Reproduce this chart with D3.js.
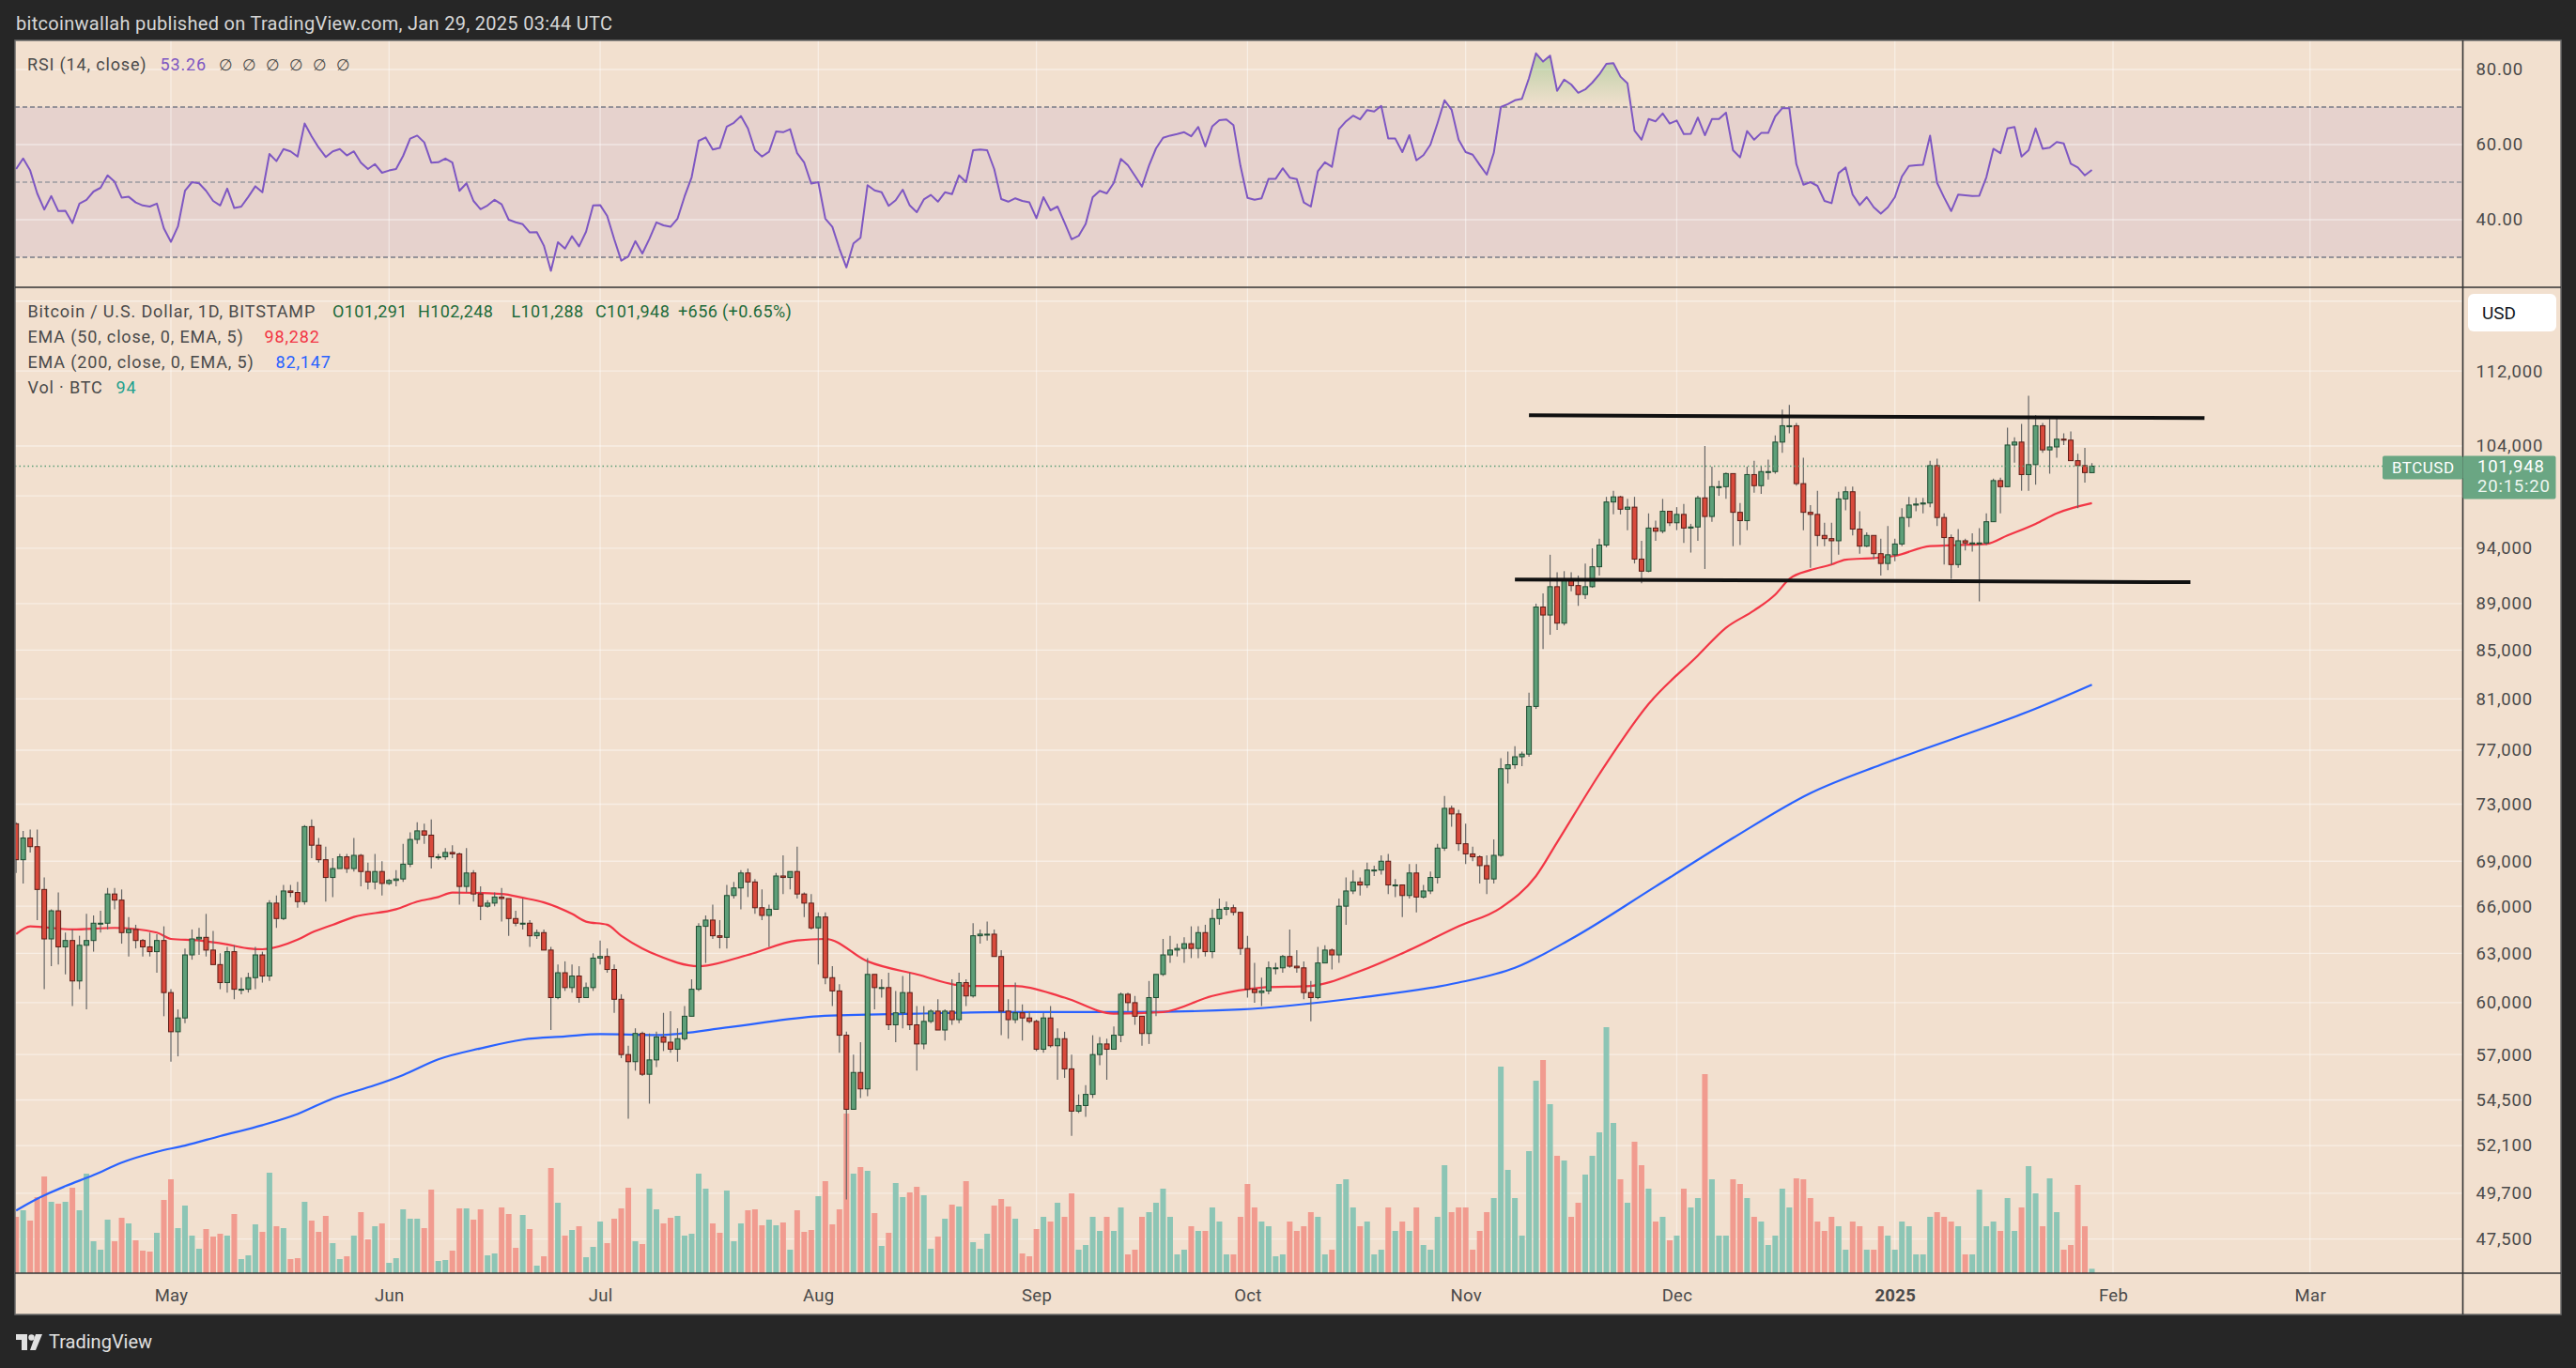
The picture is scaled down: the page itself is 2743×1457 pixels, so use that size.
<!DOCTYPE html>
<html>
<head>
<meta charset="utf-8">
<script src="https://cdn.jsdelivr.net/npm/d3@7"></script>
<style>
  html, body { margin: 0; background: #262626; }
  svg { display: block; }
</style>
</head>
<body>
<svg id="chart"></svg>
<script>
// daily candles from 2024-04-09 to 2025-01-29, prices in thousands of USD
const firstDay = "2024-04-09";

const opens = [
  71.6, 69.1, 70.6, 70.0, 67.1, 63.9, 65.7, 63.4, 63.8, 61.3, 63.5, 63.8, 64.9, 64.9, 66.8, 66.4, 64.3, 64.5, 63.8, 63.4, 63.1, 63.8,
  60.6, 58.3, 59.1, 62.9, 63.9, 64.0, 63.2, 62.3, 61.2, 63.1, 60.8, 60.8, 61.5, 62.9, 61.6, 66.2, 65.2, 67.0, 66.9, 66.3, 71.4, 70.1, 69.1, 67.9, 68.5, 69.3, 68.5, 69.4, 68.3, 67.6, 68.3,
  67.5, 67.7, 67.8, 68.8, 70.5, 71.1, 70.8, 69.3, 69.3, 69.6, 69.5, 67.3, 68.2, 66.8, 66.0, 66.2, 66.6, 66.5, 65.2, 64.9, 64.9, 64.1, 64.3, 63.2, 60.3, 61.8, 60.9, 61.6, 60.3, 60.9,
  62.7, 62.8, 62.0, 60.2, 57.0, 56.6, 58.2, 55.9, 56.7, 58.0, 57.7, 57.3, 57.9, 59.2, 60.8, 64.7, 65.1, 64.1, 64.0, 66.7, 67.2, 68.2, 67.6, 65.9, 65.4, 65.8, 68.0, 67.9, 68.3, 66.8, 66.2,
  64.6, 65.3, 61.5, 60.7, 58.1, 54.0, 56.0, 55.1, 61.7, 60.9, 60.9, 58.7, 59.4, 60.6, 58.7, 57.6, 58.9, 59.5, 58.4, 59.5, 59.0, 61.2, 60.4, 64.1, 64.2, 64.2, 62.8, 59.5, 59.0, 59.4, 59.1,
  58.9, 57.3, 59.1, 57.5, 57.9, 56.2, 53.9, 54.2, 54.8, 57.0, 57.6, 57.3, 58.1, 60.5, 60.0, 59.2, 58.2, 60.3, 61.7, 62.9, 63.2, 63.3, 63.6, 63.3, 64.3, 63.1, 65.2, 65.8, 65.9, 65.6,
  63.3, 60.8, 60.6, 60.7, 62.1, 62.1, 62.8, 62.2, 62.1, 60.6, 60.3, 62.4, 63.2, 62.9, 66.0, 67.0, 67.6, 67.4, 68.4, 68.4, 69.0, 67.4, 67.4, 66.7, 68.2, 66.6, 67.0, 67.9, 69.9, 72.7, 72.3,
  70.2, 69.5, 69.3, 68.7, 67.8, 69.4, 75.6, 75.9, 76.5, 76.7, 80.4, 88.7, 88.0, 90.5, 87.3, 91.1, 90.6, 89.8, 90.5, 92.3, 94.3, 98.4, 98.9, 97.7, 97.9, 93.0, 91.9, 95.9, 95.6, 97.5,
  96.4, 97.2, 95.9, 96.0, 98.8, 97.0, 99.9, 99.9, 101.2, 97.4, 96.6, 101.1, 100.0, 101.4, 101.4, 104.4, 106.1, 106.1, 100.2, 97.4, 97.2, 95.2, 94.9, 94.7, 98.7, 99.4, 95.8, 94.2, 95.2, 93.5, 92.6,
  93.4, 94.4, 96.9, 98.1, 98.2, 98.3, 102.0, 96.9, 95.0, 92.5, 94.7, 94.5, 94.5, 94.5, 96.5, 100.5, 99.9, 104.1, 104.4, 101.1, 102.1, 106.1, 103.6, 103.9, 104.7, 104.6, 102.5, 102.0, 101.291
];

const highs = [
  71.7, 71.1, 71.2, 71.2, 67.9, 65.8, 66.9, 64.3, 64.5, 64.1, 65.5, 65.4, 65.7, 67.2, 67.2, 67.1, 65.3, 64.8, 63.9, 64.3, 64.2, 64.7,
  60.8, 59.6, 63.3, 64.5, 64.6, 65.5, 64.4, 63.0, 63.4, 63.5, 61.5, 61.8, 63.4, 63.1, 66.4, 66.7, 67.4, 67.4, 67.6, 71.5, 71.9, 70.6, 70.0, 69.2, 69.5, 69.5, 70.6, 69.5, 68.9, 69.5, 69.0,
  67.8, 68.4, 70.2, 71.0, 71.7, 71.6, 71.9, 69.5, 69.9, 70.1, 69.6, 69.9, 68.4, 67.3, 66.4, 66.9, 67.2, 66.5, 65.7, 66.5, 65.1, 64.5, 64.5, 63.4, 62.3, 62.5, 62.3, 62.2, 61.2, 63.0,
  63.8, 63.3, 62.3, 60.5, 57.5, 58.5, 58.3, 58.2, 58.3, 59.4, 59.5, 58.5, 59.8, 61.4, 64.9, 65.4, 66.1, 65.1, 67.4, 67.6, 68.4, 68.5, 67.8, 67.1, 66.1, 68.2, 69.4, 68.3, 70.0, 66.9, 66.8,
  65.6, 65.6, 62.2, 61.1, 58.3, 57.0, 57.7, 62.7, 61.7, 61.4, 61.8, 60.7, 61.6, 61.8, 59.8, 59.8, 59.6, 60.2, 59.6, 61.4, 61.8, 61.4, 64.9, 64.5, 65.0, 64.5, 63.2, 60.2, 61.2, 59.9, 59.5,
  59.0, 59.4, 59.8, 58.5, 58.3, 57.0, 54.8, 55.3, 58.1, 58.0, 57.9, 58.6, 60.6, 60.6, 60.4, 59.2, 61.3, 61.7, 63.9, 64.1, 63.6, 64.0, 64.7, 64.7, 64.8, 65.8, 66.5, 66.3, 66.1, 65.6,
  64.1, 62.4, 61.5, 62.5, 62.4, 62.9, 64.5, 63.2, 62.5, 61.3, 63.4, 63.5, 63.3, 66.5, 67.9, 68.4, 67.9, 68.9, 68.7, 69.4, 69.5, 67.8, 67.4, 68.8, 68.8, 67.4, 68.3, 70.2, 73.6, 72.9, 72.6,
  71.6, 70.0, 69.4, 69.4, 70.5, 76.4, 76.9, 77.3, 76.9, 81.5, 89.0, 89.9, 93.4, 91.8, 91.9, 91.8, 91.5, 92.6, 94.0, 94.9, 98.9, 99.5, 99.0, 98.7, 98.9, 94.7, 97.3, 96.6, 98.7, 97.5,
  97.9, 98.2, 96.3, 99.0, 104.0, 101.9, 100.5, 101.3, 101.2, 98.3, 101.9, 102.5, 101.9, 102.6, 105.1, 107.8, 108.3, 106.4, 102.8, 98.1, 99.5, 96.4, 96.4, 99.4, 99.9, 99.9, 97.5, 95.5, 95.2, 94.9, 96.1,
  94.9, 97.8, 98.9, 98.8, 98.8, 102.5, 102.7, 97.3, 95.3, 95.8, 94.9, 95.4, 95.9, 97.3, 100.7, 100.8, 105.9, 104.9, 106.3, 109.3, 107.2, 106.4, 106.8, 107.1, 105.3, 105.5, 103.2, 103.8, 102.248
];

const lows = [
  68.2, 67.5, 69.6, 65.1, 60.8, 62.2, 62.3, 61.7, 59.8, 60.8, 59.6, 63.1, 64.3, 64.5, 65.8, 63.6, 62.8, 63.3, 62.8, 62.8, 61.8, 59.2,
  56.6, 56.9, 58.8, 62.6, 62.9, 62.8, 62.3, 60.8, 60.6, 60.2, 60.5, 60.6, 60.8, 61.2, 61.3, 64.6, 65.1, 66.6, 65.9, 66.1, 69.2, 68.9, 66.3, 66.6, 68.5, 68.2, 68.3, 67.3, 67.1, 67.1, 66.7,
  67.4, 67.3, 67.6, 68.6, 70.2, 70.2, 68.5, 69.1, 69.1, 69.2, 66.1, 66.9, 66.3, 65.1, 65.9, 66.0, 65.0, 64.1, 64.7, 64.5, 63.4, 63.9, 63.2, 58.4, 60.2, 60.7, 60.6, 60.0, 60.3, 60.7,
  62.3, 61.8, 59.4, 56.8, 53.5, 56.1, 55.8, 54.3, 56.3, 57.2, 57.1, 56.6, 57.8, 59.2, 60.7, 62.4, 63.9, 63.3, 63.3, 66.5, 65.8, 66.6, 65.5, 65.1, 63.4, 65.8, 66.8, 67.1, 66.5, 65.3, 64.5,
  62.3, 61.1, 59.8, 57.1, 49.4, 54.0, 54.6, 54.7, 59.6, 60.3, 58.4, 57.7, 58.5, 58.4, 56.1, 57.3, 58.8, 58.4, 57.8, 58.7, 58.8, 59.8, 60.3, 63.6, 63.8, 62.8, 58.1, 57.9, 58.8, 57.8, 58.8,
  57.2, 57.1, 57.4, 55.6, 55.7, 52.6, 53.8, 53.6, 54.6, 56.4, 55.6, 57.3, 57.7, 59.5, 58.7, 57.5, 57.6, 59.2, 61.6, 62.4, 62.8, 62.4, 62.7, 62.7, 62.8, 62.7, 64.8, 65.4, 65.4, 62.9,
  60.3, 60.0, 59.8, 60.5, 61.7, 61.8, 62.1, 61.8, 60.2, 58.9, 60.2, 62.4, 62.0, 62.4, 64.8, 66.8, 66.7, 67.2, 68.0, 68.1, 66.8, 66.6, 65.3, 66.5, 65.6, 66.5, 66.8, 67.5, 69.7, 71.4, 69.7,
  68.8, 69.0, 67.5, 66.8, 67.5, 69.3, 74.5, 75.6, 75.8, 76.5, 80.2, 85.1, 86.3, 86.7, 87.1, 90.1, 88.8, 89.4, 90.4, 91.5, 94.1, 97.2, 97.2, 95.7, 92.6, 90.8, 91.8, 94.7, 95.4, 96.1,
  95.7, 94.5, 93.6, 94.7, 92.1, 96.5, 99.0, 98.7, 94.2, 94.3, 95.7, 99.3, 99.2, 100.6, 101.2, 103.3, 105.3, 100.0, 95.7, 92.2, 94.2, 94.2, 92.5, 93.4, 97.6, 95.2, 93.5, 94.1, 93.0, 91.5, 92.0,
  92.8, 94.2, 96.0, 97.5, 97.3, 97.9, 96.1, 92.5, 91.2, 92.2, 93.8, 93.7, 89.2, 94.3, 96.5, 97.3, 99.9, 102.3, 99.5, 99.5, 100.1, 103.3, 101.2, 102.8, 104.1, 102.5, 97.8, 100.3, 101.288
];

const closes = [
  69.1, 70.6, 70.0, 67.1, 63.9, 65.7, 63.4, 63.8, 61.3, 63.5, 63.8, 64.9, 64.9, 66.8, 66.4, 64.3, 64.5, 63.8, 63.4, 63.1, 63.8, 60.6,
  58.3, 59.1, 62.9, 63.9, 64.0, 63.2, 62.3, 61.2, 63.1, 60.8, 60.8, 61.5, 62.9, 61.6, 66.2, 65.2, 67.0, 66.9, 66.3, 71.4, 70.1, 69.1, 67.9, 68.5, 69.3, 68.5, 69.4, 68.3, 67.6, 68.3, 67.5,
  67.7, 67.8, 68.8, 70.5, 71.1, 70.8, 69.3, 69.3, 69.6, 69.5, 67.3, 68.2, 66.8, 66.0, 66.2, 66.6, 66.5, 65.2, 64.9, 64.9, 64.1, 64.3, 63.2, 60.3, 61.8, 60.9, 61.6, 60.3, 60.9, 62.7,
  62.8, 62.0, 60.2, 57.0, 56.6, 58.2, 55.9, 56.7, 58.0, 57.7, 57.3, 57.9, 59.2, 60.8, 64.7, 65.1, 64.1, 64.0, 66.7, 67.2, 68.2, 67.6, 65.9, 65.4, 65.8, 68.0, 67.9, 68.3, 66.8, 66.2, 64.6,
  65.3, 61.5, 60.7, 58.1, 54.0, 56.0, 55.1, 61.7, 60.9, 60.9, 58.7, 59.4, 60.6, 58.7, 57.6, 58.9, 59.5, 58.4, 59.5, 59.0, 61.2, 60.4, 64.1, 64.2, 64.2, 62.8, 59.5, 59.0, 59.4, 59.1, 58.9,
  57.3, 59.1, 57.5, 57.9, 56.2, 53.9, 54.2, 54.8, 57.0, 57.6, 57.3, 58.1, 60.5, 60.0, 59.2, 58.2, 60.3, 61.7, 62.9, 63.2, 63.3, 63.6, 63.3, 64.3, 63.1, 65.2, 65.8, 65.9, 65.6, 63.3,
  60.8, 60.6, 60.7, 62.1, 62.1, 62.8, 62.2, 62.1, 60.6, 60.3, 62.4, 63.2, 62.9, 66.0, 67.0, 67.6, 67.4, 68.4, 68.4, 69.0, 67.4, 67.4, 66.7, 68.2, 66.6, 67.0, 67.9, 69.9, 72.7, 72.3, 70.2,
  69.5, 69.3, 68.7, 67.8, 69.4, 75.6, 75.9, 76.5, 76.7, 80.4, 88.7, 88.0, 90.5, 87.3, 91.1, 90.6, 89.8, 90.5, 92.3, 94.3, 98.4, 98.9, 97.7, 97.9, 93.0, 91.9, 95.9, 95.6, 97.5, 96.4,
  97.2, 95.9, 96.0, 98.8, 97.0, 99.9, 99.9, 101.2, 97.4, 96.6, 101.1, 100.0, 101.4, 101.4, 104.4, 106.1, 106.1, 100.2, 97.4, 97.2, 95.2, 94.9, 94.7, 98.7, 99.4, 95.8, 94.2, 95.2, 93.5, 92.6, 93.4,
  94.4, 96.9, 98.1, 98.2, 98.3, 102.0, 96.9, 95.0, 92.5, 94.7, 94.5, 94.5, 94.5, 96.5, 100.5, 99.9, 104.1, 104.4, 101.1, 102.1, 106.1, 103.6, 103.9, 104.7, 104.6, 102.5, 102.0, 101.3, 101.948
];

// volume in BTC
const volumes = [
  1200, 1340, 1120, 1620, 2060, 1520, 1480, 1520, 1820, 1340, 2120, 680, 500, 1140, 680, 1180, 1060, 700, 480, 460, 860,
  1560, 2000, 960, 1440, 800, 520, 940, 780, 840, 800, 1260, 300, 380, 1040, 880, 2140, 1000, 960, 300, 320, 1520, 1120, 880, 1220, 640, 300, 360, 800, 1300, 720, 1000,
  1060, 220, 320, 1360, 1160, 1160, 960, 1780, 260, 280, 480, 1380, 1380, 1140, 1360, 380, 420, 1400, 1260, 540, 1240, 940, 160, 360, 2240, 1500, 800, 920, 1000, 340, 560,
  1100, 640, 1160, 1380, 1820, 680, 620, 1800, 1360, 1060, 1180, 1220, 800, 840, 2120, 1800, 1060, 860, 1760, 680, 1060, 1340, 1360, 1020, 1140, 1020, 1080, 500, 1340, 880, 920,
  1640, 1960, 1040, 1360, 3400, 2120, 2260, 2180, 1280, 580, 860, 1920, 1620, 1720, 1840, 1660, 520, 780, 1160, 1460, 1420, 1960, 660, 520, 840, 1440, 1580, 1420, 1160, 420, 360,
  940, 1200, 1100, 1500, 1200, 1700, 500, 600, 1200, 900, 1200, 900, 1400, 400, 500, 1200, 1300, 1500, 1800, 1200, 400, 500, 1000, 900, 900, 1400, 1100, 400, 400, 1200,
  1900, 1400, 1100, 1000, 360, 400, 1100, 900, 1000, 1300, 1200, 400, 500, 1900, 2000, 1400, 1000, 1100, 400, 500, 1400, 900, 1100, 900, 1400, 600, 500, 1200, 2300, 1300, 1400,
  1400, 500, 900, 1300, 1600, 4400, 2200, 1600, 800, 2600, 4100, 4540, 3600, 2500, 2400, 1200, 1500, 2100, 2500, 3000, 5240, 3200, 2000, 1500, 2800, 2300, 1800, 1100, 1200, 700,
  800, 1800, 1400, 1600, 4240, 2000, 800, 800, 2000, 1900, 1600, 1200, 1100, 600, 800, 1800, 1400, 2020, 2000, 1600, 1100, 900, 1200, 1000, 500, 1100, 1000, 500, 500, 1000, 800,
  500, 1100, 1000, 400, 400, 1200, 1300, 1200, 1100, 1000, 400, 400, 1780, 1000, 1100, 900, 1600, 900, 1400, 2280, 1700, 1000, 2020, 1300, 500, 600, 1880, 1000, 94
];

const rsiValues = [
  53.5, 56.3, 53.1, 47.0, 42.7, 46.3, 42.3, 42.4, 39.1, 44.3, 45.3, 47.5, 48.5, 51.8, 50.1, 45.9, 46.1, 44.6, 43.8, 43.5,
  44.3, 37.7, 34.1, 38.2, 47.7, 50.0, 49.7, 47.7, 45.0, 43.8, 48.3, 43.1, 43.5, 46.1, 48.9, 47.3, 57.5, 55.6, 58.8, 58.2,
  56.8, 65.6, 62.2, 59.2, 56.7, 58.2, 58.8, 57.1, 58.2, 55.2, 53.5, 54.8, 52.5, 53.1, 53.5, 57.0, 61.6, 62.4, 60.6, 55.2,
  55.3, 56.3, 55.2, 47.7, 49.7, 45.0, 42.8, 43.8, 45.3, 44.1, 40.0, 39.3, 38.8, 36.6, 36.7, 33.1, 26.4, 34.0, 32.3, 35.6,
  32.9, 36.8, 43.8, 43.9, 41.0, 34.8, 29.1, 30.2, 34.3, 31.0, 34.9, 39.3, 38.5, 38.1, 40.3, 46.2, 51.3, 61.0, 61.9, 58.7,
  59.1, 64.8, 65.8, 67.6, 64.3, 58.5, 56.8, 58.1, 63.5, 63.3, 64.1, 57.7, 55.2, 49.6, 50.0, 40.3, 38.1, 32.3, 27.3, 33.7,
  35.2, 49.2, 47.8, 47.3, 43.7, 45.2, 48.0, 43.8, 42.0, 45.4, 46.6, 44.8, 47.3, 46.8, 51.8, 50.0, 58.5, 58.7, 58.5, 53.5,
  45.5, 44.8, 45.7, 45.0, 44.6, 40.4, 46.0, 42.5, 43.5, 39.2, 34.8, 35.7, 38.9, 46.0, 47.7, 47.0, 49.8, 56.2, 54.5, 51.7,
  48.8, 54.4, 59.0, 61.8, 62.4, 62.8, 63.3, 62.2, 64.7, 59.5, 64.9, 66.5, 66.7, 65.2, 54.3, 45.8, 45.3, 45.7, 50.9, 50.9,
  53.7, 51.2, 50.8, 44.6, 43.5, 52.9, 55.3, 54.1, 64.1, 66.2, 67.7, 66.7, 69.2, 68.8, 70.3, 61.6, 61.6, 58.0, 62.5, 55.8,
  57.2, 60.0, 65.7, 71.8, 69.3, 61.3, 58.0, 57.3, 54.6, 52.0, 57.8, 70.0, 70.8, 71.8, 72.2, 77.7, 84.3, 82.1, 83.7, 74.3,
  77.3, 76.0, 73.8, 74.7, 76.5, 78.7, 81.5, 81.7, 78.1, 76.3, 63.7, 61.3, 66.8, 66.2, 68.3, 65.6, 66.4, 62.8, 62.9, 67.2,
  62.5, 66.8, 66.8, 68.5, 58.5, 56.6, 63.6, 61.3, 63.1, 63.1, 67.5, 69.7, 69.7, 54.8, 49.3, 50.0, 49.0, 45.0, 44.4, 52.4,
  53.9, 46.7, 43.9, 46.0, 43.3, 41.6, 43.3, 46.0, 51.5, 54.3, 54.5, 54.6, 62.4, 49.8, 45.9, 42.3, 46.7, 46.5, 46.3, 46.4,
  51.3, 58.9, 57.7, 64.3, 64.7, 56.8, 58.5, 64.3, 58.9, 59.2, 60.7, 60.3, 54.9, 53.9, 51.8, 53.26
];

// EMA lines, [day, thousands USD]
const ema50Points = [
  ["2024-04-09", 64.2], ["2024-04-11", 64.7], ["2024-04-17", 64.5], ["2024-04-23", 64.6], ["2024-04-29", 64.3],
  ["2024-05-01", 63.9], ["2024-05-05", 63.8], ["2024-05-09", 63.55], ["2024-05-12", 63.3], ["2024-05-14", 63.25],
  ["2024-05-19", 63.85], ["2024-05-21", 64.3], ["2024-05-24", 64.8], ["2024-05-27", 65.3], ["2024-06-02", 65.8],
  ["2024-06-05", 66.3], ["2024-06-08", 66.6], ["2024-06-10", 66.9], ["2024-06-17", 66.8], ["2024-06-20", 66.55],
  ["2024-06-23", 66.25], ["2024-06-27", 65.5], ["2024-06-29", 65.0], ["2024-07-02", 64.8], ["2024-07-04", 64.1],
  ["2024-07-07", 63.3], ["2024-07-09", 62.9], ["2024-07-15", 62.2], ["2024-07-22", 62.9], ["2024-07-29", 63.8],
  ["2024-08-02", 63.9], ["2024-08-08", 62.5], ["2024-08-15", 61.7], ["2024-08-22", 61.0], ["2024-08-29", 61.0],
  ["2024-09-05", 60.3], ["2024-09-12", 59.35], ["2024-09-19", 59.45], ["2024-09-26", 60.4], ["2024-10-03", 60.9],
  ["2024-10-10", 61.0], ["2024-10-17", 61.9], ["2024-10-24", 63.2], ["2024-10-31", 64.7], ["2024-11-06", 65.9],
  ["2024-11-11", 68.0], ["2024-11-14", 70.3], ["2024-11-20", 75.2], ["2024-11-27", 80.6], ["2024-12-04", 84.55],
  ["2024-12-08", 86.9], ["2024-12-12", 88.4], ["2024-12-15", 89.8], ["2024-12-17", 91.2], ["2024-12-20", 92.0],
  ["2024-12-23", 92.5], ["2024-12-25", 92.95], ["2024-12-29", 93.1], ["2025-01-01", 93.3], ["2025-01-06", 94.2],
  ["2025-01-10", 94.3], ["2025-01-14", 94.4], ["2025-01-17", 95.2], ["2025-01-21", 96.3], ["2025-01-24", 97.3],
  ["2025-01-29", 98.282]
];

const ema200Points = [
  ["2024-04-09", 48.86], ["2024-04-12", 49.43], ["2024-04-16", 50.05], ["2024-04-20", 50.6], ["2024-04-24", 51.23],
  ["2024-04-29", 51.78], ["2024-05-03", 52.1], ["2024-05-08", 52.59], ["2024-05-14", 53.16], ["2024-05-19", 53.75],
  ["2024-05-24", 54.58], ["2024-05-30", 55.3], ["2024-06-03", 55.86], ["2024-06-08", 56.73], ["2024-06-14", 57.35],
  ["2024-06-20", 57.85], ["2024-06-26", 58.03], ["2024-07-01", 58.16], ["2024-07-09", 58.11], ["2024-07-20", 58.6],
  ["2024-08-01", 59.2], ["2024-08-15", 59.35], ["2024-08-28", 59.45], ["2024-09-15", 59.45], ["2024-09-30", 59.6],
  ["2024-10-17", 60.3], ["2024-10-31", 61.2], ["2024-11-08", 62.1], ["2024-11-16", 63.9], ["2024-11-28", 67.3],
  ["2024-12-09", 70.6], ["2024-12-20", 73.8], ["2024-12-30", 75.9], ["2025-01-10", 78.0], ["2025-01-20", 80.0],
  ["2025-01-29", 82.147]
];

// hand drawn range lines
const rangeLines = [
  [["2024-11-10", 107.2], ["2025-02-14", 106.9]],
  [["2024-11-08", 91.15], ["2025-02-12", 90.9]]
];

// grid levels; 120,000 and 99,000 sit under the USD and last price boxes
const priceGrid = [120, 112, 104, 99, 94, 89, 85, 81, 77, 73, 69, 66, 63, 60, 57, 54.5, 52.1, 49.7, 47.5];
const priceTicks = [112, 104, 94, 89, 85, 81, 77, 73, 69, 66, 63, 60, 57, 54.5, 52.1, 49.7, 47.5];
const rsiTicks = [80, 60, 40];
const rsiLevels = [70, 50, 30];
const monthTicks = ["2024-05-01", "2024-06-01", "2024-07-01", "2024-08-01", "2024-09-01", "2024-10-01",
                    "2024-11-01", "2024-12-01", "2025-01-01", "2025-02-01", "2025-03-01"];
const monthLabels = ["May", "Jun", "Jul", "Aug", "Sep", "Oct", "Nov", "Dec", "2025", "Feb", "Mar"];

const W = 2743, H = 1457;
const left = 16, plotRight = 2622.5, right = 2727;
const rsiTop = 43, paneSplit = 306, paneBottom = 1356, axisBottomY = 1400;
const FONT = "Roboto, 'Noto Sans', 'DejaVu Sans', sans-serif";
const TEXT = "#4a4a4a";

const parseDay = d3.utcParse("%Y-%m-%d");
const day0 = parseDay(firstDay);
const days = closes.map((c, i) => d3.utcDay.offset(day0, i));
const months = monthTicks.map(parseDay);

const x = d3.scaleUtc()
            .domain([parseDay("2024-05-01"), parseDay("2025-02-01")])
            .range([182, 2250]);
const y = d3.scaleLog()
            .domain([47.5, 112])
            .range([1319.7, 395.1]);
const yR = d3.scaleLinear()
             .domain([30, 70])
             .range([274, 114]);
const yV = d3.scaleLinear()
             .domain([0, d3.max(volumes)])
             .range([paneBottom, 1094]);

const svg = d3.select("#chart")
              .attr("width", W)
              .attr("height", H)
              .attr("font-family", FONT);

svg.append("rect").attr("width", W).attr("height", H).attr("fill", "#262626");
svg.append("rect")
   .attr("x", left).attr("y", rsiTop)
   .attr("width", right - left).attr("height", axisBottomY - rsiTop)
   .attr("fill", "#f2e0cf");

const defs = svg.append("defs");
defs.append("clipPath").attr("id", "priceClip")
    .append("rect").attr("x", left).attr("y", paneSplit).attr("width", plotRight - left).attr("height", paneBottom - paneSplit);
defs.append("clipPath").attr("id", "rsiClip")
    .append("rect").attr("x", left).attr("y", rsiTop).attr("width", plotRight - left).attr("height", paneSplit - rsiTop);
const obGrad = defs.append("linearGradient").attr("id", "obGrad")
    .attr("gradientUnits", "userSpaceOnUse")
    .attr("x1", 0).attr("x2", 0).attr("y1", yR(88)).attr("y2", yR(70));
obGrad.append("stop").attr("offset", 0).attr("stop-color", "rgb(76,175,80)").attr("stop-opacity", 0.45);
obGrad.append("stop").attr("offset", 1).attr("stop-color", "rgb(76,175,80)").attr("stop-opacity", 0);

// RSI band
svg.append("rect")
   .attr("x", left).attr("y", yR(70))
   .attr("width", plotRight - left).attr("height", yR(30) - yR(70))
   .attr("fill", "rgba(126,87,194,0.1)");

// grid
const grid = svg.append("g").attr("stroke", "rgba(255,255,255,0.45)").attr("stroke-width", 1.3);
grid.selectAll(".vgrid").data(months).join("line")
    .attr("x1", d => x(d)).attr("x2", d => x(d))
    .attr("y1", rsiTop).attr("y2", paneBottom);
grid.selectAll(".hgrid").data(priceGrid).join("line")
    .attr("x1", left).attr("x2", plotRight)
    .attr("y1", d => y(d)).attr("y2", d => y(d));
grid.selectAll(".rgrid").data(rsiTicks).join("line")
    .attr("x1", left).attr("x2", plotRight)
    .attr("y1", d => yR(d)).attr("y2", d => yR(d));

// RSI levels
svg.append("g").selectAll("line").data(rsiLevels).join("line")
   .attr("x1", left).attr("x2", plotRight)
   .attr("y1", d => yR(d)).attr("y2", d => yR(d))
   .attr("stroke", d => d === 50 ? "#9a9aa0" : "#787b86")
   .attr("stroke-width", 1.3)
   .attr("stroke-dasharray", "5,3");

// RSI line and overbought fill
const gRsi = svg.append("g").attr("clip-path", "url(#rsiClip)");
gRsi.append("path")
    .datum(rsiValues)
    .attr("fill", "url(#obGrad)")
    .attr("d", d3.area()
                 .x((v, i) => x(days[i]))
                 .y0(yR(70))
                 .y1(v => yR(Math.max(v, 70))));
gRsi.append("path")
    .datum(rsiValues)
    .attr("fill", "none")
    .attr("stroke", "#7e57c2")
    .attr("stroke-width", 2)
    .attr("stroke-linejoin", "round")
    .attr("d", d3.line().x((v, i) => x(days[i])).y(v => yR(v)));

// volume
const gPrice = svg.append("g").attr("clip-path", "url(#priceClip)");
gPrice.append("g").selectAll("rect").data(volumes).join("rect")
      .attr("x", (v, i) => x(days[i]) - 3)
      .attr("width", 6)
      .attr("y", v => yV(v))
      .attr("height", v => yV(0) - yV(v))
      .attr("fill", (v, i) => closes[i] >= opens[i] ? "#8cc5b5" : "#f19b8f");

// EMA lines
const emaLine = d3.line()
                  .x(d => x(parseDay(d[0])))
                  .y(d => y(d[1]))
                  .curve(d3.curveMonotoneX);
gPrice.append("path").datum(ema200Points)
      .attr("fill", "none").attr("stroke", "#2962ff").attr("stroke-width", 2.2)
      .attr("d", emaLine);
gPrice.append("path").datum(ema50Points)
      .attr("fill", "none").attr("stroke", "#f23645").attr("stroke-width", 2.2)
      .attr("d", emaLine);

// candles
const candle = gPrice.append("g").selectAll("g").data(closes).join("g");
candle.append("line")
      .attr("x1", (c, i) => x(days[i])).attr("x2", (c, i) => x(days[i]))
      .attr("y1", (c, i) => y(highs[i])).attr("y2", (c, i) => y(lows[i]))
      .attr("stroke", "#666")
      .attr("stroke-width", 1.2);
candle.append("rect")
      .attr("x", (c, i) => x(days[i]) - 2.5)
      .attr("width", 5)
      .attr("y", (c, i) => y(Math.max(opens[i], c)))
      .attr("height", (c, i) => Math.max(1, y(Math.min(opens[i], c)) - y(Math.max(opens[i], c))))
      .attr("fill", (c, i) => c >= opens[i] ? "#5e9f79" : "#d94a3c")
      .attr("stroke", (c, i) => c >= opens[i] ? "#1e4d31" : "#5c1d16")
      .attr("stroke-width", 1);

// range lines
gPrice.append("g").selectAll("line").data(rangeLines).join("line")
      .attr("x1", d => x(parseDay(d[0][0]))).attr("y1", d => y(d[0][1]))
      .attr("x2", d => x(parseDay(d[1][0]))).attr("y2", d => y(d[1][1]))
      .attr("stroke", "#111")
      .attr("stroke-width", 4);

// last price line
const lastClose = closes[closes.length - 1];
svg.append("line")
   .attr("x1", left).attr("x2", 2537)
   .attr("y1", y(lastClose)).attr("y2", y(lastClose))
   .attr("stroke", "#5e9f79")
   .attr("stroke-width", 1.5)
   .attr("stroke-dasharray", "1.5,3");

// pane separators and frame
svg.append("rect")
   .attr("x", left).attr("y", rsiTop)
   .attr("width", right - left).attr("height", axisBottomY - rsiTop)
   .attr("fill", "none").attr("stroke", "#6a6a6a").attr("stroke-width", 1.5);
const sep = svg.append("g").attr("stroke", "#333").attr("stroke-width", 1.6);
sep.append("line").attr("x1", left).attr("x2", right).attr("y1", paneSplit).attr("y2", paneSplit);
sep.append("line").attr("x1", left).attr("x2", right).attr("y1", paneBottom).attr("y2", paneBottom);
sep.append("line").attr("x1", plotRight).attr("x2", plotRight).attr("y1", rsiTop).attr("y2", axisBottomY);

// axes
const axisP = svg.append("g")
                 .attr("transform", `translate(${plotRight},0)`)
                 .call(d3.axisRight(y).tickValues(priceTicks).tickSize(0).tickPadding(14)
                         .tickFormat(v => d3.format(",")(Math.round(v * 1000))));
const axisR = svg.append("g")
                 .attr("transform", `translate(${plotRight},0)`)
                 .call(d3.axisRight(yR).tickValues(rsiTicks).tickSize(0).tickPadding(14)
                         .tickFormat(d3.format(".2f")));
const axisT = svg.append("g")
                 .attr("transform", `translate(0,${paneBottom})`)
                 .call(d3.axisBottom(x).tickValues(months).tickSize(0)
                         .tickFormat((d, i) => monthLabels[i]));
[axisP, axisR, axisT].forEach(a => {
  a.select(".domain").remove();
  a.attr("font-family", FONT).attr("font-size", 18.5);
  a.selectAll("text").attr("fill", TEXT).attr("letter-spacing", 0.8);
});
axisT.selectAll("text")
     .attr("y", 24).attr("dy", "0.35em").attr("letter-spacing", 0.3)
     .attr("font-weight", (d, i) => monthLabels[i] === "2025" ? 700 : 400);

// USD box
svg.append("rect").attr("x", 2628).attr("y", 313).attr("width", 94).attr("height", 40).attr("rx", 6).attr("fill", "#fff");
svg.append("text").attr("x", 2643).attr("y", 333).attr("dy", "0.35em")
   .attr("font-size", 19).attr("fill", "#131722").text("USD");

// last price labels
const lastY = y(lastClose);
svg.append("rect").attr("x", 2537).attr("y", lastY - 11).attr("width", plotRight - 2537).attr("height", 25)
   .attr("rx", 2).attr("fill", "#6aa683");
svg.append("text").attr("x", 2547).attr("y", lastY + 1.5).attr("dy", "0.35em")
   .attr("font-size", 17).attr("fill", "#fff").attr("letter-spacing", 0.5).text("BTCUSD");
svg.append("rect").attr("x", plotRight).attr("y", lastY - 11).attr("width", 99).attr("height", 46)
   .attr("rx", 2).attr("fill", "#6aa683");
svg.append("text").attr("x", 2638).attr("y", lastY + 0.5).attr("dy", "0.35em")
   .attr("font-size", 18.5).attr("fill", "#fff").attr("letter-spacing", 0.8)
   .text(d3.format(",")(Math.round(lastClose * 1000)));
svg.append("text").attr("x", 2638).attr("y", lastY + 21.5).attr("dy", "0.35em")
   .attr("font-size", 18.5).attr("fill", "#eef6f0").attr("letter-spacing", 0.8).text("20:15:20");

// header and footer
svg.append("text").attr("x", 17).attr("y", 25).attr("dy", "0.35em")
   .attr("font-size", 20).attr("fill", "#d6d6d6").attr("letter-spacing", 0.3)
   .text("bitcoinwallah published on TradingView.com, Jan 29, 2025 03:44 UTC");
svg.append("path").attr("fill", "#e0e0e0")
   .attr("d", "M17 1421h12v17h-6v-11h-6z M38 1421h7l-7 17h-6z");
svg.append("circle").attr("cx", 33.5).attr("cy", 1424.5).attr("r", 3.2).attr("fill", "#e0e0e0");
svg.append("text").attr("x", 52).attr("y", 1429).attr("dy", "0.35em")
   .attr("font-size", 20).attr("fill", "#e0e0e0").text("TradingView");

// legends
const legend = svg.append("g").attr("font-size", 18).attr("letter-spacing", 0.85);
const addText = (xp, yp, txt, col) =>
  legend.append("text").attr("x", xp).attr("y", yp).attr("dy", "0.35em").attr("fill", col).text(txt);

addText(29, 69, "RSI (14, close)", TEXT);
addText(170.5, 69, "53.26", "#7e57c2");
[233, 258, 283, 308, 333, 358].forEach(xp => addText(xp, 69, "\u2205", TEXT).attr("font-size", 17).attr("letter-spacing", 0));

const green = "#1d6b3a";
addText(29.5, 331.5, "Bitcoin / U.S. Dollar, 1D, BITSTAMP", TEXT);
[[354, "O101,291"], [445, "H102,248"], [544.5, "L101,288"], [634, "C101,948"], [722, "+656 (+0.65%)"]]
  .forEach(([xp, txt]) => addText(xp, 331.5, txt, green).attr("letter-spacing", 0.4));
addText(29.5, 358.5, "EMA (50, close, 0, EMA, 5)", TEXT);
addText(281.5, 358.5, "98,282", "#f23645");
addText(29.5, 385.5, "EMA (200, close, 0, EMA, 5)", TEXT);
addText(293.5, 385.5, "82,147", "#2962ff");
addText(29.5, 412.5, "Vol \u00b7 BTC", TEXT);
addText(123.5, 412.5, "94", "#22a08e");
</script>
</body>
</html>
